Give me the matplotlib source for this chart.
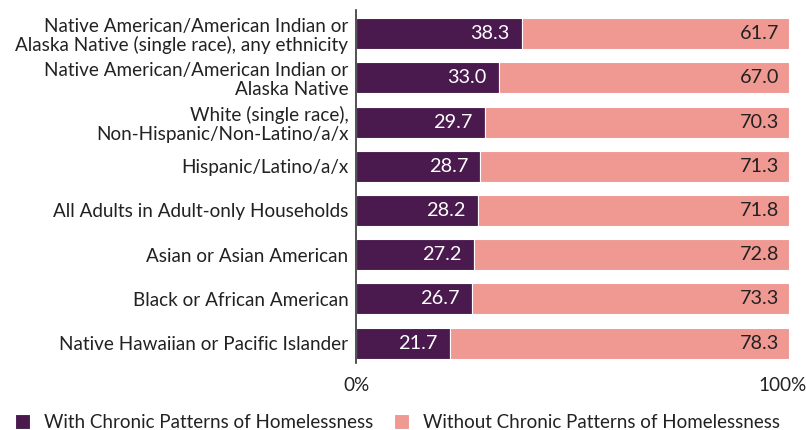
import matplotlib.pyplot as plt
from matplotlib.transforms import ScaledTranslation

# data (top to bottom)
categories = [
    'Native American/American Indian or\nAlaska Native (single race), any ethnicity',
    'Native American/American Indian or\nAlaska Native',
    'White (single race),\nNon-Hispanic/Non-Latino/a/x',
    'Hispanic/Latino/a/x',
    'All Adults in Adult-only Households',
    'Asian or Asian American',
    'Black or African American',
    'Native Hawaiian or Pacific Islander',
]
with_chronic = [38.3, 33.0, 29.7, 28.7, 28.2, 27.2, 26.7, 21.7]
without_chronic = [61.7, 67.0, 70.3, 71.3, 71.8, 72.8, 73.3, 78.3]

purple = '#4a1a4f'
pink = '#ef9992'
txt = '#222222'

plt.rcParams['font.family'] = ['Lato', 'DejaVu Sans']

fig = plt.figure(figsize=(8.06, 4.30), dpi=100)
ax = fig.add_axes([0.4417, 0.156, 0.979 - 0.4417, 0.821])

ypos = list(range(len(categories)))
ax.barh(ypos, with_chronic, height=0.7, color=purple, edgecolor='white', linewidth=0.8,
        label='With Chronic Patterns of Homelessness')
ax.barh(ypos, without_chronic, left=with_chronic, height=0.7, color=pink, edgecolor='white',
        linewidth=0.8, label='Without Chronic Patterns of Homelessness')

for y, a, b in zip(ypos, with_chronic, without_chronic):
    ax.text(a - 2.8, y, f'{a:.1f}', ha='right', va='center', color='white', fontsize=14.3)
    ax.text(a + b - 2.2, y, f'{b:.1f}', ha='right', va='center', color=txt, fontsize=14.3)

ax.set_ylim(7.45, -0.54)
ax.set_xlim(0, 100)
ax.set_yticks(ypos)
ax.set_yticklabels(categories, fontsize=13.6, color=txt, linespacing=1.1)
ax.set_xticks([0, 100])
ax.set_xticklabels(['0%', '100%'], fontsize=13.6, color=txt)
ax.tick_params(axis='both', length=0)
ax.tick_params(axis='y', pad=5.5)
ax.tick_params(axis='x', pad=10)
lab100 = ax.get_xticklabels()[1]
lab100.set_transform(lab100.get_transform() + ScaledTranslation(-7 / 100, 0, fig.dpi_scale_trans))
for s in ['top', 'right', 'bottom']:
    ax.spines[s].set_visible(False)
ax.spines['left'].set_color('#333333')
ax.spines['left'].set_linewidth(1.2)

fig.legend(loc='lower left', bbox_to_anchor=(-0.002, -0.042), ncol=2, frameon=False,
           fontsize=13.5, handlelength=0.8, handleheight=0.8, handletextpad=0.75,
           columnspacing=1.1, labelcolor=txt)

fig.savefig('out.png', dpi=100)
